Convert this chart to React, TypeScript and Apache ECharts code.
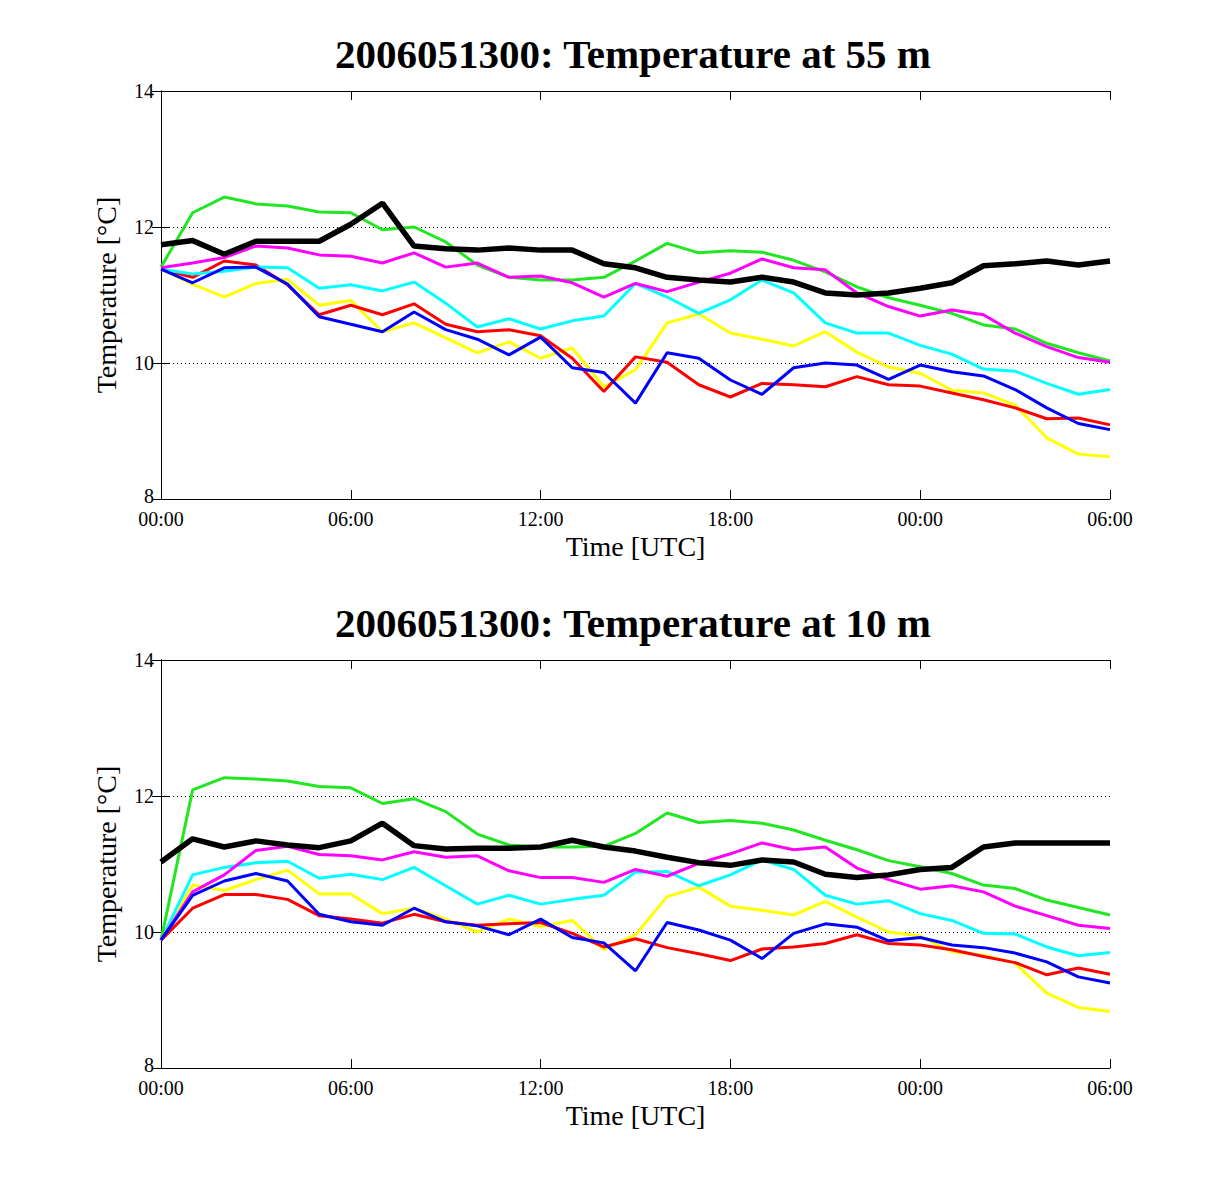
import React, { useEffect, useRef } from "react";
import * as echarts from "echarts";

const hours = [0, 1, 2, 3, 4, 5, 6, 7, 8, 9, 10, 11, 12, 13, 14, 15, 16, 17, 18, 19, 20, 21, 22, 23, 24, 25, 26, 27, 28, 29, 30];
const xTickLabels = ["00:00", "06:00", "12:00", "18:00", "00:00", "06:00"];
const yTicks = [8, 10, 12, 14];

const titles = ["2006051300: Temperature at 55 m", "2006051300: Temperature at 10 m"];
const xName = "Time [UTC]";
const yName = "Temperature [°C]";

// Top panel: 55 m
const top55Yellow = [11.38, 11.16, 10.97, 11.17, 11.23, 10.85, 10.92, 10.46, 10.59, 10.37, 10.15, 10.31, 10.07, 10.22, 9.65, 9.9, 10.59, 10.72, 10.44, 10.35, 10.25, 10.46, 10.16, 9.94, 9.85, 9.6, 9.56, 9.38, 8.9, 8.66, 8.62];
const top55Red = [11.38, 11.26, 11.5, 11.44, 11.15, 10.71, 10.85, 10.71, 10.87, 10.57, 10.46, 10.49, 10.4, 10.07, 9.58, 10.09, 10.01, 9.68, 9.5, 9.7, 9.68, 9.65, 9.8, 9.68, 9.66, 9.56, 9.46, 9.34, 9.18, 9.19, 9.09];
const top55Cyan = [11.38, 11.31, 11.35, 11.41, 11.4, 11.1, 11.15, 11.06, 11.19, 10.88, 10.53, 10.65, 10.5, 10.62, 10.69, 11.17, 10.97, 10.73, 10.93, 11.22, 11.03, 10.59, 10.44, 10.44, 10.26, 10.13, 9.91, 9.88, 9.7, 9.54, 9.61];
const top55Green = [11.41, 12.21, 12.44, 12.34, 12.31, 12.22, 12.21, 11.96, 12.0, 11.78, 11.44, 11.26, 11.22, 11.22, 11.26, 11.5, 11.76, 11.62, 11.65, 11.63, 11.51, 11.34, 11.12, 10.96, 10.85, 10.73, 10.56, 10.5, 10.29, 10.15, 10.03];
const top55Magenta = [11.4, 11.47, 11.55, 11.72, 11.69, 11.59, 11.57, 11.47, 11.62, 11.41, 11.47, 11.26, 11.28, 11.18, 10.97, 11.17, 11.05, 11.19, 11.32, 11.53, 11.4, 11.37, 11.03, 10.83, 10.69, 10.78, 10.71, 10.44, 10.24, 10.08, 10.01];
const top55Blue = [11.38, 11.18, 11.4, 11.41, 11.16, 10.68, 10.57, 10.46, 10.75, 10.49, 10.35, 10.12, 10.38, 9.93, 9.86, 9.41, 10.15, 10.07, 9.75, 9.54, 9.93, 10.0, 9.97, 9.76, 9.97, 9.87, 9.81, 9.61, 9.34, 9.11, 9.02];
const top55Black = [11.74, 11.8, 11.6, 11.79, 11.79, 11.79, 12.04, 12.35, 11.72, 11.68, 11.66, 11.69, 11.66, 11.66, 11.46, 11.4, 11.26, 11.22, 11.19, 11.26, 11.19, 11.03, 11.0, 11.03, 11.1, 11.18, 11.43, 11.46, 11.5, 11.44, 11.5];

// Bottom panel: 10 m
const bot10Yellow = [9.88, 10.69, 10.61, 10.77, 10.91, 10.56, 10.56, 10.27, 10.35, 10.19, 10.0, 10.19, 10.08, 10.17, 9.74, 9.96, 10.52, 10.66, 10.38, 10.32, 10.25, 10.45, 10.22, 10.0, 9.94, 9.71, 9.66, 9.54, 9.1, 8.89, 8.83];
const bot10Red = [9.88, 10.35, 10.55, 10.55, 10.48, 10.24, 10.19, 10.13, 10.26, 10.15, 10.1, 10.12, 10.14, 9.98, 9.78, 9.9, 9.77, 9.68, 9.58, 9.75, 9.78, 9.83, 9.96, 9.83, 9.81, 9.74, 9.64, 9.55, 9.37, 9.47, 9.38];
const bot10Cyan = [9.88, 10.84, 10.95, 11.02, 11.04, 10.79, 10.85, 10.77, 10.95, 10.68, 10.41, 10.54, 10.41, 10.48, 10.54, 10.88, 10.89, 10.68, 10.84, 11.06, 10.92, 10.54, 10.41, 10.46, 10.27, 10.17, 9.98, 9.97, 9.78, 9.65, 9.7];
const bot10Green = [9.88, 12.09, 12.27, 12.25, 12.22, 12.14, 12.12, 11.89, 11.96, 11.77, 11.44, 11.28, 11.25, 11.25, 11.26, 11.45, 11.75, 11.61, 11.64, 11.6, 11.5, 11.35, 11.21, 11.05, 10.96, 10.86, 10.69, 10.64, 10.47, 10.36, 10.25];
const bot10Magenta = [9.88, 10.59, 10.84, 11.2, 11.26, 11.14, 11.12, 11.06, 11.18, 11.1, 11.12, 10.9, 10.8, 10.8, 10.73, 10.92, 10.82, 11.01, 11.15, 11.31, 11.21, 11.25, 10.94, 10.77, 10.63, 10.68, 10.59, 10.38, 10.24, 10.1, 10.05];
const bot10Blue = [9.88, 10.54, 10.75, 10.86, 10.75, 10.26, 10.15, 10.1, 10.35, 10.15, 10.09, 9.96, 10.19, 9.92, 9.84, 9.43, 10.14, 10.03, 9.88, 9.61, 9.98, 10.12, 10.07, 9.87, 9.92, 9.81, 9.77, 9.69, 9.56, 9.34, 9.25];
const bot10Black = [11.03, 11.37, 11.25, 11.34, 11.28, 11.24, 11.34, 11.6, 11.27, 11.22, 11.23, 11.23, 11.25, 11.35, 11.25, 11.19, 11.1, 11.02, 10.98, 11.06, 11.03, 10.85, 10.8, 10.84, 10.92, 10.95, 11.25, 11.31, 11.31, 11.31, 11.31];

const colors = ["#ffff00", "#ff0000", "#00ffff", "#22e622", "#ff00ff", "#0000ff", "#000000"];
const topSeries = [top55Yellow, top55Red, top55Cyan, top55Green, top55Magenta, top55Blue, top55Black];
const botSeries = [bot10Yellow, bot10Red, bot10Cyan, bot10Green, bot10Magenta, bot10Blue, bot10Black];

const FONT = "'Liberation Serif', 'Times New Roman', serif";

export default function App() {
  const ref = useRef<HTMLDivElement>(null);
  useEffect(() => {
    if (!ref.current) return;
    const chart = echarts.init(ref.current, null, { renderer: "svg" });
    const gridTops = [91, 660];
    const grids = gridTops.map((t) => ({ left: 161, top: t, width: 949, height: 408, show: false }));

    const xAxes: any[] = [];
    const yAxes: any[] = [];
    [0, 1].forEach((g) => {
      xAxes.push({
        gridIndex: g,
        type: "value",
        min: 0,
        max: 30,
        interval: 6,
        position: "bottom",
        name: xName,
        nameLocation: "middle",
        nameGap: 33,
        nameTextStyle: { fontFamily: FONT, fontSize: 28, color: "#000" },
        axisLine: { show: true, lineStyle: { color: "#000", width: 1 } },
        axisTick: { show: true, inside: true, length: 9, lineStyle: { color: "#000" } },
        axisLabel: {
          show: true,
          margin: 10,
          fontFamily: FONT,
          fontSize: 20,
          lineHeight: 20,
          color: "#000",
          formatter: (v: number) => xTickLabels[Math.round(v / 6)] ?? "",
        },
        splitLine: { show: false },
      });
      xAxes.push({
        gridIndex: g,
        type: "value",
        min: 0,
        max: 30,
        interval: 6,
        position: "top",
        axisLine: { show: true, lineStyle: { color: "#000", width: 1 } },
        axisTick: { show: true, inside: true, length: 9, lineStyle: { color: "#000" } },
        axisLabel: { show: false },
        splitLine: { show: false },
      });
      yAxes.push({
        gridIndex: g,
        type: "value",
        min: yTicks[0],
        max: yTicks[yTicks.length - 1],
        interval: 2,
        position: "left",
        name: yName,
        nameLocation: "middle",
        nameGap: 41,
        nameTextStyle: { fontFamily: FONT, fontSize: 28, color: "#000" },
        axisLine: { show: true, lineStyle: { color: "#000", width: 1 } },
        axisTick: { show: true, inside: true, length: 9, lineStyle: { color: "#000" } },
        axisLabel: {
          show: true,
          margin: 7,
          fontFamily: FONT,
          fontSize: 20,
          lineHeight: 15,
          color: "#000",
          formatter: (v: number) => (v === yTicks[0] ? `{lo|${v}}` : `${v}`),
          rich: {
            lo: { fontFamily: FONT, fontSize: 20, lineHeight: 15, color: "#000", padding: [0, 0, 7, 0] },
          },
        },
        splitLine: { show: true, lineStyle: { color: "#000", width: 1, type: [1, 3] } },
      });
      yAxes.push({
        gridIndex: g,
        type: "value",
        min: yTicks[0],
        max: yTicks[yTicks.length - 1],
        interval: 2,
        position: "right",
        axisLine: { show: true, lineStyle: { color: "#000", width: 1 } },
        axisTick: { show: true, inside: true, length: 9, lineStyle: { color: "#000" } },
        axisLabel: { show: false },
        splitLine: { show: false },
      });
    });

    const series: any[] = [];
    [topSeries, botSeries].forEach((set, g) => {
      set.forEach((vals, i) => {
        const isBlack = i === set.length - 1;
        series.push({
          type: "line",
          xAxisIndex: g * 2,
          yAxisIndex: g * 2,
          data: vals.map((v, k) => [hours[k], v]),
          showSymbol: false,
          symbol: "none",
          lineStyle: { color: colors[i], width: isBlack ? 5.5 : 3 },
          itemStyle: { color: colors[i] },
          z: 2 + i,
        });
      });
    });

    chart.setOption({
      animation: false,
      backgroundColor: "#ffffff",
      title: titles.map((t, i) => ({
        text: t,
        left: 628,
        top: i === 0 ? 28 : 597,
        textAlign: "center",
        textStyle: { fontFamily: FONT, fontSize: 41, fontWeight: "bold", color: "#000" },
      })),
      grid: grids,
      xAxis: xAxes,
      yAxis: yAxes,
      series,
    });
    return () => chart.dispose();
  }, []);
  return (
    <div
      ref={ref}
      style={{ position: "absolute", left: 0, top: 0, width: 1227, height: 1200, background: "#fff" }}
    />
  );
}
